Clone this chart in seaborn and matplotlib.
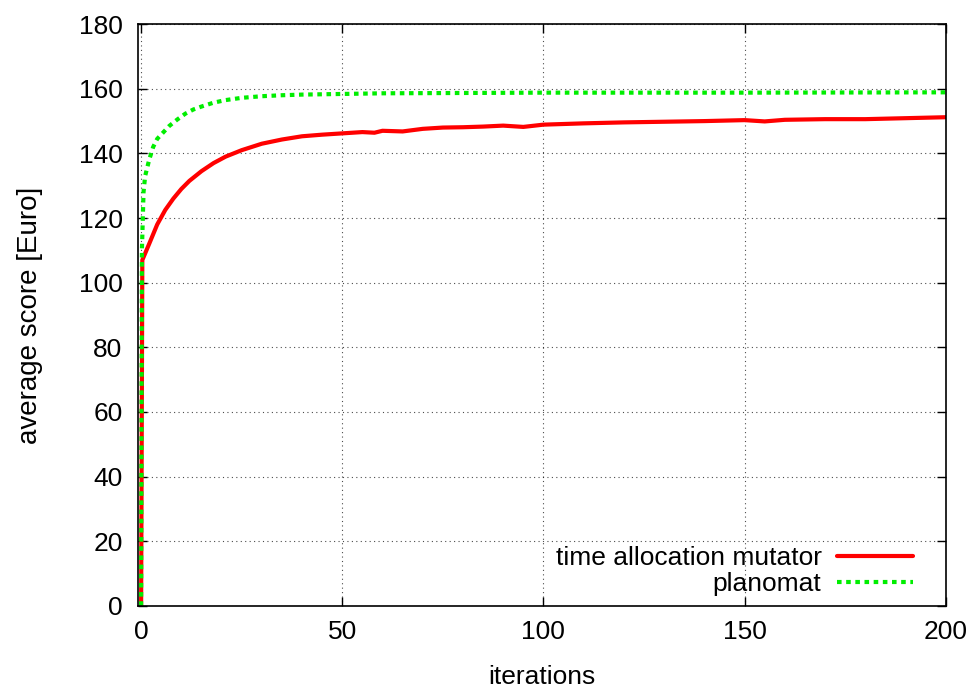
import matplotlib
matplotlib.use("Agg")
import matplotlib.pyplot as plt
import pandas as pd
import seaborn as sns

# Data
tam_iter = [0, 0.3, 2, 4, 6, 8, 10, 12, 15, 18, 21, 25, 30, 35, 40, 45, 50, 55, 58,
            60, 65, 70, 75, 80, 85, 90, 95, 100, 110, 120, 130, 140, 150, 155, 160,
            170, 180, 190, 200]
tam_score = [0, 107, 112, 118, 122.5, 126, 129, 131.5, 134.5, 137, 139, 141, 143, 144.3,
             145.3, 145.8, 146.2, 146.6, 146.4, 147, 146.8, 147.6, 148, 148.1, 148.3,
             148.6, 148.2, 148.9, 149.3, 149.6, 149.8, 150, 150.3, 149.9, 150.4, 150.6,
             150.6, 150.9, 151.2]

plan_iter = [0, 0.2, 0.6, 1, 2, 3, 4, 5.5, 7, 9, 11, 13, 15, 18, 21, 25, 30, 35, 40,
             50, 60, 80, 100, 150, 200]
plan_score = [0, 110, 128, 133, 138, 142, 144.5, 146.5, 148.5, 150.5, 152.3, 153.6,
              154.5, 155.7, 156.5, 157.2, 157.7, 158, 158.2, 158.4, 158.6, 158.7,
              158.8, 158.8, 158.9]

series_names = ["time allocation mutator", "planomat"]

df_tam = pd.DataFrame({"iteration": tam_iter, "score": tam_score})
df_plan = pd.DataFrame({"iteration": plan_iter, "score": plan_score})

sns.set_theme(style="ticks", rc={"text.color": "black", "axes.labelcolor": "black"})
plt.rcParams['font.family'] = ['Liberation Sans', 'DejaVu Sans']

fig, ax = plt.subplots(figsize=(9.78, 6.9), dpi=100)
fig.subplots_adjust(left=0.141, right=0.967, top=0.965, bottom=0.122)

# Plot both series
sns.lineplot(data=df_tam, x="iteration", y="score", ax=ax, color="#ff0000",
             linewidth=3, label=series_names[0], sort=False)
sns.lineplot(data=df_plan, x="iteration", y="score", ax=ax, color="#00ee00",
             linewidth=3, linestyle=(0, (1.1, 1.1)), dash_capstyle="butt",
             label=series_names[1], sort=False)

ax.set_xlim(-0.8, 200)
ax.set_ylim(0, 180)
ax.set_xticks([0, 50, 100, 150, 200])
ax.set_yticks(range(0, 181, 20))

ax.grid(True, color="black", linestyle=(0, (1, 3)), linewidth=0.8, alpha=0.7)
ax.tick_params(direction="in", top=True, right=True, labelsize=19, length=6.5,
               width=1, colors="black")
ax.tick_params(axis="x", pad=10)
ax.tick_params(axis="y", pad=11)
for s in ax.spines.values():
    s.set_linewidth(1.2)
    s.set_color("black")

ax.set_xlabel("iterations", fontsize=19, labelpad=15)
ax.set_ylabel("average score [Euro]", fontsize=20, labelpad=26)

ax.legend(loc="lower right", frameon=False, markerfirst=False, fontsize=19,
          handlelength=2.85, handletextpad=0.6, borderaxespad=0, borderpad=0,
          labelspacing=0.06, bbox_to_anchor=(0.959, 0.017))

fig.savefig("out.png", dpi=100)
